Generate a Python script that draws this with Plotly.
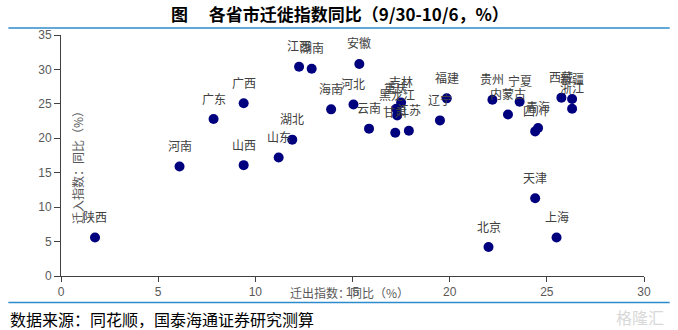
import plotly.graph_objects as go

provinces = ["陕西", "河南", "广东", "广西", "山西", "山东", "湖北", "江西", "湖南", "海南",
             "河北", "安徽", "云南", "甘肃", "黑龙江", "重庆", "吉林", "江苏", "辽宁", "福建",
             "北京", "贵州", "内蒙古", "宁夏", "天津", "四川", "青海", "上海", "西藏", "新疆", "浙江"]
out_yoy = [1.75, 6.1, 7.85, 9.4, 9.4, 11.2, 11.9, 12.25, 12.9, 13.9,
           15.05, 15.35, 15.85, 17.2, 17.3, 17.25, 17.5, 17.9, 19.5, 19.85,
           22.0, 22.2, 23.0, 23.6, 24.4, 24.4, 24.55, 25.5, 25.75, 26.3, 26.3]
in_yoy = [5.6, 15.9, 22.8, 25.1, 16.1, 17.2, 19.8, 30.4, 30.1, 24.2,
          24.9, 30.8, 21.4, 20.8, 23.3, 24.3, 25.2, 21.1, 22.6, 25.8,
          4.2, 25.6, 23.45, 25.3, 11.3, 21.0, 21.5, 5.6, 25.9, 25.7, 24.3]
x_ticks = [0, 5, 10, 15, 20, 25, 30]
y_ticks = [0, 5, 10, 15, 20, 25, 30, 35]

W, H = 678, 330
L, R, T, B = 60.7, 644.3, 35.0, 276.5

def px(x):
    return (x - L) / (R - L)

def py(y):
    return (B - y) / (B - T)

fig = go.Figure()
fig.add_trace(go.Scatter(
    x=out_yoy, y=in_yoy, mode="markers",
    marker=dict(color="#00007F", size=10, line=dict(width=0)),
    hoverinfo="skip", showlegend=False,
))

annotations = []
for name, xv, yv in zip(provinces, out_yoy, in_yoy):
    annotations.append(dict(
        x=xv, y=yv, xref="x", yref="y", text=name, showarrow=False,
        yshift=21, font=dict(family="Noto Sans CJK SC", size=12, color="#404040"),
        xanchor="center", yanchor="middle",
    ))

annotations += [
    dict(x=px(340), y=py(13), xref="paper", yref="paper",
         text="图\u3000 各省市迁徙指数同比（9/30-10/6，%）", showarrow=False,
         font=dict(family="Noto Sans CJK SC", size=17, color="#000000", weight="bold"),
         xanchor="center", yanchor="middle"),
    dict(x=px(8), y=py(320), xref="paper", yref="paper",
         text="数据来源：同花顺，国泰海通证券研究测算", showarrow=False,
         font=dict(family="Noto Sans CJK SC", size=16, color="#000000"),
         xanchor="left", yanchor="middle"),
    dict(x=px(349), y=py(293), xref="paper", yref="paper",
         text="迁出指数：同比（%）", showarrow=False,
         font=dict(family="Noto Sans CJK SC", size=12, color="#595959"),
         xanchor="center", yanchor="middle"),
    dict(x=px(77), y=py(165), xref="paper", yref="paper",
         text="迁入指数：同比（%）", showarrow=False, textangle=-90,
         font=dict(family="Noto Sans CJK SC", size=12, color="#595959"),
         xanchor="center", yanchor="middle"),
    dict(x=px(640), y=py(318), xref="paper", yref="paper",
         text="格隆汇", showarrow=False,
         font=dict(family="Noto Sans CJK SC", size=16, color="#D8D8D8"),
         xanchor="center", yanchor="middle"),
]

shapes = [
    dict(type="line", xref="paper", yref="paper", x0=px(8), x1=px(670), y0=py(28), y1=py(28),
         line=dict(color="#2E8BCB", width=1.5)),
    dict(type="line", xref="paper", yref="paper", x0=px(8), x1=px(670), y0=py(303), y1=py(303),
         line=dict(color="#2E8BCB", width=1.5)),
]

axis_font = dict(family="Liberation Sans, Arial", size=12, color="#595959")
fig.update_layout(
    width=W, height=H,
    margin=dict(l=L, r=W - R, t=T, b=H - B, pad=0),
    paper_bgcolor="white", plot_bgcolor="white",
    xaxis=dict(range=[0, 30], tickvals=x_ticks, showgrid=False, zeroline=False,
               showline=True, linecolor="#404040", linewidth=1,
               ticks="outside", ticklen=5, tickcolor="#404040",
               tickfont=axis_font, fixedrange=True),
    yaxis=dict(range=[0, 35], tickvals=y_ticks, showgrid=False, zeroline=False,
               showline=True, linecolor="#404040", linewidth=1,
               ticks="outside", ticklen=6, tickcolor="#404040",
               tickfont=axis_font, fixedrange=True),
    annotations=annotations, shapes=shapes,
)

fig.write_html("out.html")
